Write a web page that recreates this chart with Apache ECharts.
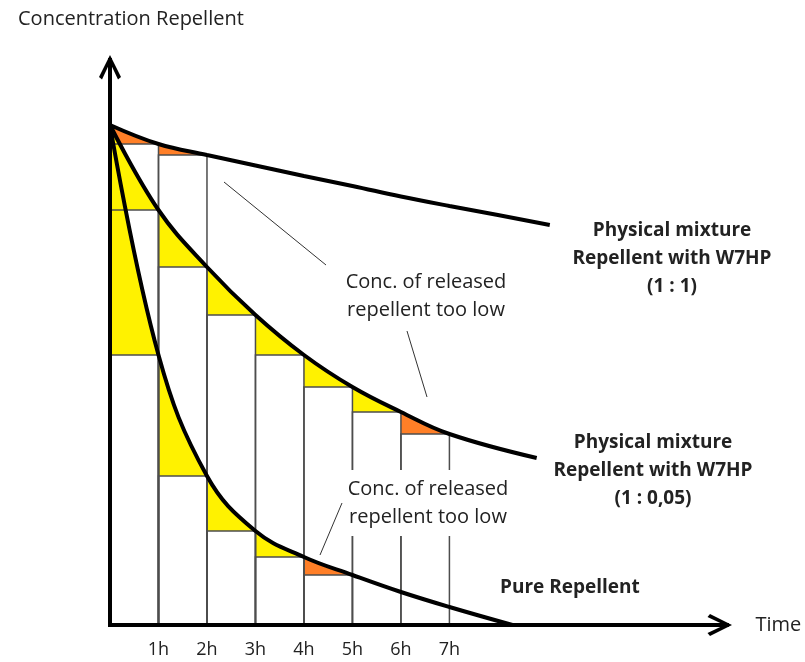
<!DOCTYPE html>
<html>
<head>
<meta charset="utf-8">
<script src="https://cdn.jsdelivr.net/npm/echarts@6/dist/echarts.min.js"></script>
<style>
  html, body { margin: 0; background: #fff; }
  #chart { width: 805px; height: 662px; }
</style>
</head>
<body>
<div id="chart"></div>
<script>
// hours after application / concentration (start = 100)
const upperTime = [0, 1, 2, 3, 4, 5, 6, 7, 8, 9.07];
const upperConc = [100, 96.2, 94, 91.9, 89.8, 87.8, 85.7, 83.8, 82, 80];
const middleTime = [0, 1, 2, 3, 4, 5, 6, 7, 8.8];
const middleConc = [100, 83, 71.6, 62, 54, 47.6, 42.6, 38.2, 33.4];
const pureTime = [0, 1, 2, 3, 4, 5, 6, 7, 8.3];
const pureConc = [100, 54, 29.8, 18.8, 13.6, 10, 6.6, 3.6, 0];

// hourly blocks under each curve: 'y' = released enough, 'o' = too low
const upperBlocks = ["o", "o"];
const middleBlocks = ["y", "y", "y", "y", "y", "y", "o"];
const pureBlocks = ["y", "y", "y", "y", "o"];

const hourLabels = ["1h", "2h", "3h", "4h", "5h", "6h", "7h"];

const YELLOW = "#fff200";
const ORANGE = "#ff7f27";
const TEXT = "#222";
const FONT = "'Open Sans', Lato, sans-serif";
const SMOOTH = 0.4;

const curves = [
  { time: upperTime, conc: upperConc, blocks: upperBlocks },
  { time: middleTime, conc: middleConc, blocks: middleBlocks },
  { time: pureTime, conc: pureConc, blocks: pureBlocks },
];

const toPoints = (c) => c.time.map((t, i) => [t, c.conc[i]]);
// block i spans hour i..i+1, its top is the curve value at hour i+1
const toBlocks = (c) => c.blocks.map((b, i) => [i, i + 1, c.conc[i + 1]]);

const blockRect = (api) => {
  const p0 = api.coord([api.value(0), api.value(2)]);
  const p1 = api.coord([api.value(1), 0]);
  return { x: p0[0], y: p0[1], width: p1[0] - p0[0], height: p1[1] - p0[1] };
};

const arrow =
  "path://M11,0 L22,22 L19,24.5 L11,7.5 L3,24.5 L0,22 Z M9,3 L13,3 L13,25 L9,25 Z";

const series = [];
const visualMaps = [];

curves.forEach((c, k) => {
  // coloured area under the curve, only over the hourly blocks
  visualMaps.push({
    type: "piecewise",
    show: false,
    dimension: 0,
    seriesIndex: series.length,
    pieces: c.blocks
      .map((b, i) => ({ gte: i, lt: i + 1, color: b === "o" ? ORANGE : YELLOW }))
      .concat([{ gte: c.blocks.length, color: "rgba(255,255,255,0)" }]),
  });
  series.push({
    type: "line",
    data: toPoints(c),
    smooth: SMOOTH,
    showSymbol: false,
    silent: true,
    lineStyle: { width: 0, opacity: 0 },
    areaStyle: { opacity: 1 },
    z: 1 + 2 * k,
  });
  // white blocks (the released amount per hour)
  series.push({
    type: "custom",
    data: toBlocks(c),
    encode: { x: [0, 1], y: 2 },
    silent: true,
    z: 2 + 2 * k,
    renderItem: (params, api) => ({
      type: "rect",
      shape: blockRect(api),
      style: { fill: "#fff" },
    }),
  });
});

// block outlines
series.push({
  type: "custom",
  data: curves.flatMap(toBlocks),
  encode: { x: [0, 1], y: 2 },
  silent: true,
  z: 7,
  renderItem: (params, api) => ({
    type: "rect",
    shape: blockRect(api),
    style: { fill: "none", stroke: "#4d4d4d", lineWidth: 1.5 },
  }),
});

// the curves themselves
curves.forEach((c) => {
  series.push({
    type: "line",
    data: toPoints(c),
    smooth: SMOOTH,
    showSymbol: false,
    silent: true,
    lineStyle: { color: "#000", width: 4 },
    z: 8,
  });
});

const chart = echarts.init(document.getElementById("chart"));

chart.setOption({
  animation: false,
  backgroundColor: "#fff",
  title: {
    text: "Concentration Repellent",
    left: 13,
    top: 4,
    textStyle: { fontFamily: FONT, fontSize: 20, fontWeight: "normal", color: TEXT },
  },
  grid: { left: 110, right: 85.5, top: 67.5, bottom: 37, outerBoundsMode: "none" },
  xAxis: {
    type: "value",
    min: 0,
    max: 12.57,
    interval: 1,
    z: 10,
    name: "Time",
    nameLocation: "end",
    nameGap: 36,
    nameTextStyle: { fontFamily: FONT, fontSize: 20, color: TEXT, verticalAlign: "middle" },
    axisLine: {
      lineStyle: { color: "#000", width: 4, cap: "square" },
      symbol: ["none", arrow],
      symbolSize: [22, 25],
    },
    axisTick: { show: false },
    splitLine: { show: false },
    axisLabel: {
      margin: 16,
      fontFamily: FONT,
      fontSize: 18,
      color: TEXT,
      formatter: (v) => hourLabels[v - 1] || "",
    },
  },
  yAxis: {
    type: "value",
    min: 0,
    max: 111.5,
    z: 10,
    axisLine: {
      show: true,
      lineStyle: { color: "#000", width: 4, cap: "square" },
      symbol: ["none", arrow],
      symbolSize: [22, 25],
    },
    axisTick: { show: false },
    axisLabel: { show: false },
    splitLine: { show: false },
  },
  visualMap: visualMaps,
  series: series,
  graphic: [
    // leader lines
    { type: "line", z: 100, shape: { x1: 224, y1: 182, x2: 326, y2: 265 }, style: { stroke: "#333", lineWidth: 1 } },
    { type: "line", z: 100, shape: { x1: 407, y1: 331, x2: 427, y2: 397 }, style: { stroke: "#333", lineWidth: 1 } },
    {
      type: "text",
      z: 100,
      style: {
        text: "Conc. of released\nrepellent too low",
        x: 426, y: 268,
        textAlign: "center", textVerticalAlign: "top",
        font: "20px " + FONT, lineHeight: 28, fill: TEXT,
      },
    },
    {
      type: "text",
      z: 100,
      style: {
        text: "Conc. of released\nrepellent too low",
        x: 428, y: 470,
        textAlign: "center", textVerticalAlign: "top",
        font: "20px " + FONT, lineHeight: 28, fill: TEXT,
        backgroundColor: "#fff", padding: [5, 4],
      },
    },
    { type: "line", z: 101, shape: { x1: 342, y1: 503, x2: 320, y2: 555 }, style: { stroke: "#333", lineWidth: 1 } },
    {
      type: "text",
      z: 100,
      style: {
        text: "Physical mixture\nRepellent with W7HP\n(1 : 1)",
        x: 672, y: 217,
        textAlign: "center", textVerticalAlign: "top",
        font: "bold 19px " + FONT, lineHeight: 28, fill: TEXT,
      },
    },
    {
      type: "text",
      z: 100,
      style: {
        text: "Physical mixture\nRepellent with W7HP\n(1 : 0,05)",
        x: 653, y: 429,
        textAlign: "center", textVerticalAlign: "top",
        font: "bold 19px " + FONT, lineHeight: 28, fill: TEXT,
      },
    },
    {
      type: "text",
      z: 100,
      style: {
        text: "Pure Repellent",
        x: 500, y: 588,
        textAlign: "left", textVerticalAlign: "middle",
        font: "bold 19px " + FONT, fill: TEXT,
      },
    },
  ],
});
</script>
</body>
</html>
